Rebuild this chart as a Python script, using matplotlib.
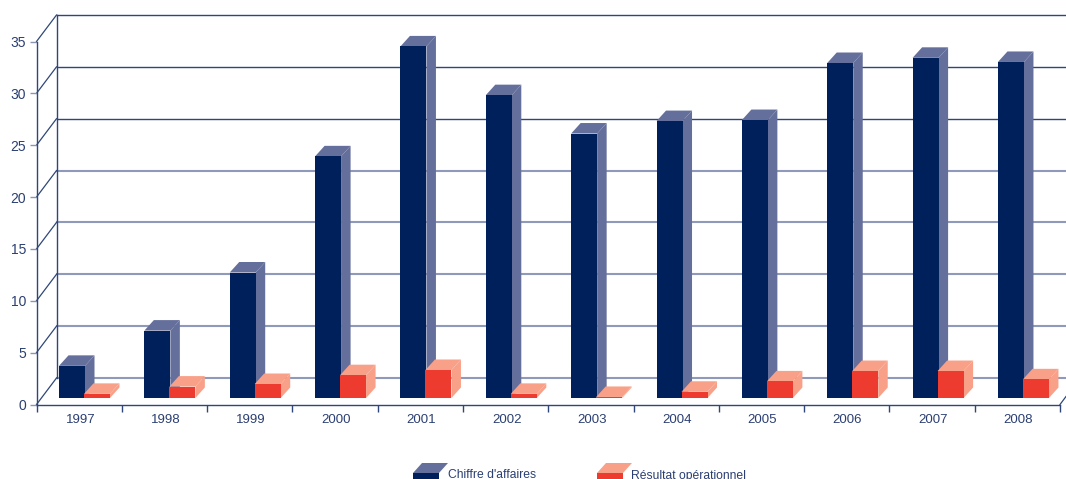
import matplotlib
matplotlib.use('Agg')
import matplotlib.pyplot as plt
from matplotlib.patches import Polygon

years = ['1997', '1998', '1999', '2000', '2001', '2002', '2003', '2004', '2005', '2006', '2007', '2008']
chiffre = [3.1, 6.5, 12.1, 23.3, 33.9, 29.2, 25.5, 26.7, 26.8, 32.3, 32.8, 32.4]
resultat = [0.4, 1.1, 1.35, 2.2, 2.7, 0.4, 0.1, 0.6, 1.6, 2.6, 2.6, 1.8]
y_ticks = [0, 5, 10, 15, 20, 25, 30, 35]

NAVY = '#00205b'
NAVY_LIGHT = '#656f9b'
RED = '#ee3b30'
RED_LIGHT = '#f9a088'
LINE = '#2f4778'
GRID_LIGHT = '#8f9abb'
TEXT = '#2b3f73'

W, H = 1066, 479
LEFT, RIGHT, BOTTOM, TOP = 36.5, 1060, 404.5, 41.5
PX_X = (RIGHT - LEFT) / 12
PX_Y = (BOTTOM - TOP) / 35

plt.rcParams['font.family'] = ['Liberation Sans', 'DejaVu Sans']

fig = plt.figure(figsize=(W / 100, H / 100), dpi=100)
ax = fig.add_axes([LEFT / W, 1 - BOTTOM / H, (RIGHT - LEFT) / W, (BOTTOM - TOP) / H])
ax.set_xlim(0, 12)
ax.set_ylim(0, 35)
ax.patch.set_visible(False)

for s in ['top', 'right']:
    ax.spines[s].set_visible(False)
for s in ['left', 'bottom']:
    ax.spines[s].set_color(LINE)
    ax.spines[s].set_linewidth(1.0)

# back wall, shifted up and to the right
wall_dx = 20 / PX_X
wall_dy = 26.5 / PX_Y
x_end = 12 + 6 / PX_X
for v in y_ticks:
    # the lower grid lines are paler and a bit wider in the original
    if v >= 25:
        ax.plot([wall_dx, x_end], [v + wall_dy, v + wall_dy], color=LINE, lw=1.0, clip_on=False, zorder=1)
    else:
        ax.plot([wall_dx, x_end], [v + wall_dy, v + wall_dy], color=GRID_LIGHT, lw=1.5, clip_on=False, zorder=1)
    ax.plot([0, wall_dx], [v, v + wall_dy], color=LINE, lw=0.9, clip_on=False, zorder=1)
ax.plot([wall_dx, wall_dx], [wall_dy, 35 + wall_dy], color=LINE, lw=1.0, clip_on=False, zorder=2)
ax.plot([12, x_end], [0, 8 / PX_Y], color=LINE, lw=0.9, clip_on=False, zorder=1)

ax.set_xticks(range(13))
ax.set_xticklabels([])
ax.set_yticks(y_ticks)
ax.tick_params(axis='y', length=5, width=1.0, color='#8a95b3', labelcolor=TEXT, labelsize=10, pad=2.5)
ax.tick_params(axis='x', length=5, width=1.0, color=LINE)
for i, year in enumerate(years):
    ax.text((44.2 + i * 85.2) / PX_X, -15.5 / PX_Y, year, color=TEXT, fontsize=9.5, ha='center', va='center')

# 3d bars
depth_x = 9.5 / PX_X
depth_y = 10.5 / PX_Y
base = 6.5 / PX_Y
bar_w = 26 / PX_X
step = 85.36 / PX_X


def box3d(left, value, front, light, z):
    x0, x1 = left, left + bar_w
    y0, y1 = base, base + value
    ax.add_patch(Polygon([(x0, y1), (x1, y1), (x1 + depth_x, y1 + depth_y), (x0 + depth_x, y1 + depth_y)],
                         color=light, lw=0, zorder=z, clip_on=False))
    ax.add_patch(Polygon([(x1, y0), (x1 + depth_x, y0 + depth_y), (x1 + depth_x, y1 + depth_y), (x1, y1)],
                         color=light, lw=0, zorder=z, clip_on=False))
    ax.bar(left, value, width=bar_w, bottom=base, align='edge', color=front, lw=0, zorder=z)


for i in range(len(years)):
    box3d(i * step + 22.5 / PX_X, chiffre[i], NAVY, NAVY_LIGHT, 3 + i)
    box3d(i * step + 47.5 / PX_X, resultat[i], RED, RED_LIGHT, 3.5 + i)

# legend, cut by the bottom edge like the original
lax = fig.add_axes([0, 0, 1, 1])
lax.set_xlim(0, W)
lax.set_ylim(H, 0)
lax.axis('off')
for x0, front, light, label, tx in [(413, NAVY, NAVY_LIGHT, "Chiffre d'affaires", 448),
                                    (597, RED, RED_LIGHT, 'Résultat opérationnel', 631)]:
    lax.add_patch(Polygon([(x0, 473), (x0 + 26, 473), (x0 + 35, 463), (x0 + 9, 463)], color=light, lw=0))
    lax.add_patch(Polygon([(x0, 473), (x0 + 26, 473), (x0 + 26, 480), (x0, 480)], color=front, lw=0))
    lax.text(tx, 475.5, label, color=TEXT, fontsize=8.7, ha='left', va='center')

fig.savefig('out.png', dpi=100)
